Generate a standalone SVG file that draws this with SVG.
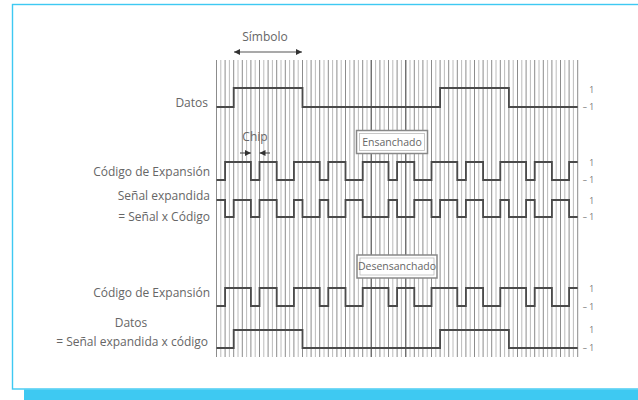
<svg xmlns="http://www.w3.org/2000/svg" width="638" height="400" viewBox="0 0 638 400">
<style>
.lbl{font-family:"Open Sans","Liberation Sans",sans-serif;font-size:12px;fill:#666}
.box{font-family:"Open Sans","Liberation Sans",sans-serif;font-size:10.5px;fill:#666}
.lv{font-family:"Open Sans","Liberation Sans",sans-serif;font-size:8.5px;fill:#777;text-anchor:end}
.wave{fill:none;stroke:#4a4a4a;stroke-width:1.8;stroke-linejoin:miter}
.gmain{fill:none;stroke:#8c8c8c;stroke-width:1}
.ghalf{fill:none;stroke:#b4b4b4;stroke-width:0.9}
.gdark{fill:none;stroke:#6e6e6e;stroke-width:1.3}
.arr{fill:none;stroke:#555;stroke-width:1.2}
</style>
<defs>
<marker id="ah" viewBox="0 0 10 10" refX="10" refY="5" markerWidth="6" markerHeight="6" orient="auto-start-reverse" markerUnits="userSpaceOnUse">
<path d="M0,0L10,5L0,10z" fill="#333"/>
</marker>
</defs>
<rect width="638" height="400" fill="#fff"/>
<g id="frame">
<rect x="12.5" y="4.5" width="640" height="384.5" fill="none" stroke="#3ec9f2" stroke-width="1.4"/>
<rect x="24" y="389.5" width="614" height="10.5" fill="#3ec9f2"/>
</g>
<g id="grid">
<path class="ghalf" d="M220.8 60V357M229.4 60V357M238 60V357M246.6 60V357M255.2 60V357M263.8 60V357M272.4 60V357M281 60V357M289.6 60V357M298.2 60V357M306.8 60V357M315.4 60V357M324 60V357M332.6 60V357M341.2 60V357M349.8 60V357M358.4 60V357M367 60V357M375.6 60V357M384.2 60V357M392.8 60V357M401.4 60V357M410 60V357M418.6 60V357M427.2 60V357M435.8 60V357M444.4 60V357M453 60V357M461.6 60V357M470.2 60V357M478.8 60V357M487.4 60V357M496 60V357M504.6 60V357M513.2 60V357M521.8 60V357M530.4 60V357M539 60V357M547.6 60V357M556.2 60V357M564.8 60V357M573.4 60V357"/>
<path class="gmain" d="M216.5 60V357M225.1 60V357M233.7 60V357M242.3 60V357M250.9 60V357M259.5 60V357M268.1 60V357M276.7 60V357M285.3 60V357M293.9 60V357M302.5 60V357M311.1 60V357M319.7 60V357M328.3 60V357M336.9 60V357M345.5 60V357M354.1 60V357M362.7 60V357M371.3 60V357M379.9 60V357M388.5 60V357M397.1 60V357M405.7 60V357M414.3 60V357M422.9 60V357M431.5 60V357M440.1 60V357M448.7 60V357M457.3 60V357M465.9 60V357M474.5 60V357M483.1 60V357M491.7 60V357M500.3 60V357M508.9 60V357M517.5 60V357M526.1 60V357M534.7 60V357M543.3 60V357M551.9 60V357M560.5 60V357M569.1 60V357M577.7 60V357"/>
<path class="gdark" d="M371.3 60V357M405.7 60V357"/>
</g>
<g id="box-ensanchado">
<rect x="356.5" y="130.5" width="71" height="23" fill="#fff" stroke="#888" stroke-width="1.5"/>
<rect x="359.5" y="133.5" width="65" height="17" fill="#fff" stroke="#bbb" stroke-width="0.8"/>
<text class="box" x="392" y="145.5" text-anchor="middle">Ensanchado</text>
</g>
<g id="box-desensanchado">
<rect x="357" y="255" width="80" height="23" fill="#fff" stroke="#888" stroke-width="1.5"/>
<rect x="360" y="258" width="74" height="17" fill="#fff" stroke="#bbb" stroke-width="0.8"/>
<text class="box" x="397" y="270" text-anchor="middle">Desensanchado</text>
</g>
<g id="waves">
<path id="w-datos" class="wave" d="M216.5,107H233.7V88H302.5V107H440.1V88H508.9V107H577.7"/>
<path id="w-codigo" class="wave" d="M216.5,180H225.1V162H250.9V180H259.5V162H276.7V180H293.9V162H319.7V180H328.3V162H345.5V180H362.7V162H388.5V180H397.1V162H414.3V180H431.5V162H457.3V180H465.9V162H483.1V180H500.3V162H526.1V180H534.7V162H551.9V180H569.1V162H577.7"/>
<path id="w-senal" class="wave" d="M216.5,200H225.1V217H233.7V200H250.9V217H259.5V200H276.7V217H293.9V200H302.5V217H319.7V200H328.3V217H345.5V200H362.7V217H388.5V200H397.1V217H414.3V200H431.5V217H440.1V200H457.3V217H465.9V200H483.1V217H500.3V200H508.9V217H526.1V200H534.7V217H551.9V200H569.1V217H577.7"/>
<path id="w-codigo2" class="wave" d="M216.5,306H225.1V288H250.9V306H259.5V288H276.7V306H293.9V288H319.7V306H328.3V288H345.5V306H362.7V288H388.5V306H397.1V288H414.3V306H431.5V288H457.3V306H465.9V288H483.1V306H500.3V288H526.1V306H534.7V288H551.9V306H569.1V288H577.7"/>
<path id="w-datos2" class="wave" d="M216.5,348H233.7V330H302.5V348H440.1V330H508.9V348H577.7"/>
</g>
<g id="connectors">
<line class="arr" x1="234" y1="52" x2="302" y2="52" marker-start="url(#ah)" marker-end="url(#ah)"/>
<line class="arr" x1="240" y1="153" x2="250.9" y2="153" marker-end="url(#ah)"/>
<line class="arr" x1="270" y1="153" x2="259.5" y2="153" marker-end="url(#ah)"/>
</g>
<g id="labels">
<text class="lbl" x="265" y="41" text-anchor="middle">Símbolo</text>
<text class="lbl" x="255" y="141" text-anchor="middle">Chip</text>
<text class="lbl" x="208" y="107" text-anchor="end">Datos</text>
<text class="lbl" x="210" y="176" text-anchor="end">Código de Expansión</text>
<text class="lbl" x="210" y="200" text-anchor="end">Señal expandida</text>
<text class="lbl" x="210" y="221" text-anchor="end">= Señal x Código</text>
<text class="lbl" x="210" y="297" text-anchor="end">Código de Expansión</text>
<text class="lbl" x="131" y="327" text-anchor="middle">Datos</text>
<text class="lbl" x="208" y="346" text-anchor="end">= Señal expandida x código</text>
</g>
<g id="levels">
<text class="lv" x="594" y="93">1</text><text class="lv" x="594" y="110">– 1</text>
<text class="lv" x="594" y="166">1</text><text class="lv" x="594" y="183">– 1</text>
<text class="lv" x="594" y="204">1</text><text class="lv" x="594" y="220">– 1</text>
<text class="lv" x="594" y="292">1</text><text class="lv" x="594" y="310">– 1</text>
<text class="lv" x="594" y="333">1</text><text class="lv" x="594" y="351">– 1</text>
</g>
</svg>
